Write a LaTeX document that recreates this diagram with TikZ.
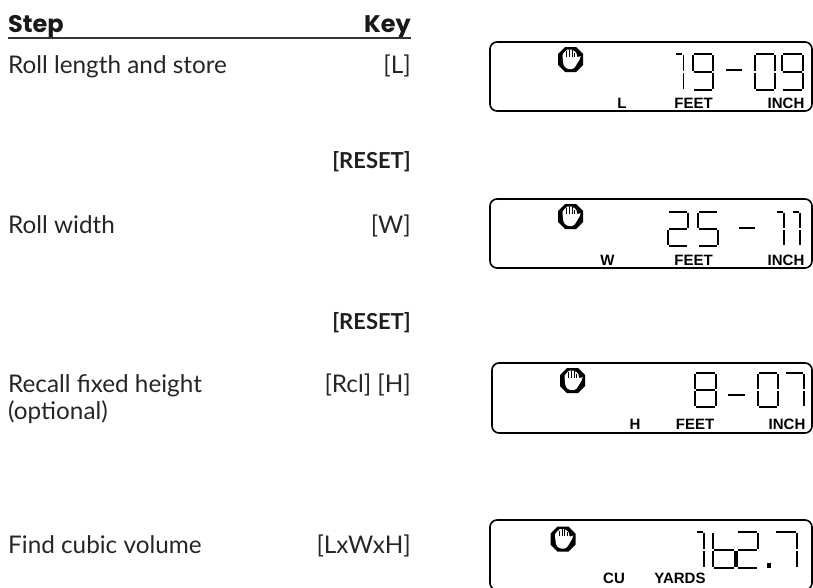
\documentclass[tikz,border=0pt]{standalone}
\usepackage{fontspec}
\setmainfont{Lato}
\newfontfamily\lcdfont{Liberation Sans}
\newfontfamily\headfont{Poppins}
\tikzset{
  x=1pt,y=-1pt,
  body/.style={inner sep=0pt,font=\fontsize{24.3}{27}\selectfont,text=black!85,anchor=base west},
  keytxt/.style={inner sep=0pt,font=\fontsize{24.3}{27}\selectfont,text=black!85,anchor=base east},
  resettxt/.style={inner sep=0pt,font=\fontsize{22}{26}\selectfont\bfseries,text=black!88,anchor=base east},
  headtxt/.style={inner sep=0pt,font=\headfont\fontsize{24}{27}\selectfont\bfseries,text=black!90},
  lcdbox/.style={draw=black,line width=1.6pt,rounded corners=7pt},
  lcd/.style={draw=black,line width=1.9pt,line cap=butt},
  lcddash/.style={draw=black,line width=2.6pt},
  lcdlabel/.style={inner sep=0pt,anchor=base,font=\lcdfont\fontsize{15}{15}\selectfont\bfseries,text=black},
}
\newcommand\sega{\draw[lcd] ([xshift=1.2pt]TL) -- ([xshift=-1.2pt]TR);}
\newcommand\segb{\draw[lcd] ([yshift=-1.2pt]TR) -- ([yshift=1.2pt]MR);}
\newcommand\segc{\draw[lcd] ([yshift=-1.2pt]MR) -- ([yshift=1.2pt]BR);}
\newcommand\segd{\draw[lcd] ([xshift=1.2pt]BL) -- ([xshift=-1.2pt]BR);}
\newcommand\sege{\draw[lcd] ([yshift=-1.2pt]ML) -- ([yshift=1.2pt]BL);}
\newcommand\segf{\draw[lcd] ([yshift=-1.2pt]TL) -- ([yshift=1.2pt]ML);}
\newcommand\segg{\draw[lcd] ([xshift=1.2pt]ML) -- ([xshift=-1.2pt]MR);}
\newcommand\segh{\draw[lcd] ([xshift=-7.5pt]TR) -- ([xshift=-1.2pt]TR);}
% x0 x1 y0 y1 segments
\newcommand\lcdchar[5]{%
  \coordinate (TL) at (#1,#3); \coordinate (TR) at (#2,#3);
  \coordinate (ML) at (#1,{(#3+#4)/2}); \coordinate (MR) at (#2,{(#3+#4)/2});
  \coordinate (BL) at (#1,#4); \coordinate (BR) at (#2,#4);
  \foreach \s in {#5}{\csname seg\s\endcsname}%
}
\newcommand\handicon[2]{%
  \begin{scope}[shift={(#1,#2)}]
    \fill[black] (-5.5,-12.5) -- (5.5,-12.5) -- (12.5,-5.5) -- (12.5,5.5) -- (5.5,12.5) -- (-5.5,12.5) -- (-12.5,5.5) -- (-12.5,-5.5) -- cycle;
    \fill[white,rounded corners=1.5pt] (-8,-3) -- (-7.5,-7) -- (-5,-7) -- (-4.5,-10) -- (3,-10) -- (3.5,-7.5) -- (6,-7.5) -- (6.5,-1.5)
      -- (9.5,-4) -- (10.5,-2.5) -- (5.5,6) -- (3,9.5) -- (-3.5,9.5) -- (-7,6) -- cycle;
    \draw[black,line width=1pt] (-3.8,-8.5) -- (-3.8,-3);
    \draw[black,line width=1pt] (-1,-10) -- (-1,-3);
    \draw[black,line width=1pt] (1.8,-10) -- (1.8,-3);
    \draw[black,line width=.8pt] (4.2,-7) -- (4.2,-3);
  \end{scope}%
}
\begin{document}
\begin{tikzpicture}
\useasboundingbox (0,0) rectangle (813,587);
% table text
\node[headtxt,anchor=base west] (hstep) at (8,32) {Step};
\node[headtxt,anchor=base east] (hkey) at (411,32) {Key};
\draw[black!80,line width=1.1pt] (8,38) -- (411,38);
\node[body] (s1) at (8,73) {Roll length and store};
\node[keytxt] (k1) at (411,73) {[L]};
\node[resettxt] (r1) at (411,168) {[RESET]};
\node[body] (s2) at (8,233) {Roll width};
\node[keytxt] (k2) at (411,233) {[W]};
\node[resettxt] (r2) at (411,329) {[RESET]};
\node[body] (s3) at (8,392) {Recall fixed height};
\node[keytxt] (k3) at (411,392) {[Rcl] [H]};
\node[body] (s3b) at (8,419) {(optional)};
\node[body] (s4) at (8,553) {Find cubic volume};
\node[keytxt] (k4) at (411,553) {[LxWxH]};
% display 1
\draw[lcdbox] (490,42) rectangle (812,111);
\handicon{570.5}{59.5}
\lcdchar{683.5}{683.5}{54}{90}{b,c,h}
\lcdchar{693}{713}{54}{90}{a,b,c,d,f,g}
\draw[lcddash] (726,70) -- (742,70);
\lcdchar{755}{775}{54}{90}{a,b,c,d,e,f}
\lcdchar{782}{803}{54}{90}{a,b,c,d,f,g}
\node[lcdlabel] (l1) at (622,108) {L};
\node[lcdlabel] (f1) at (693.5,108) {FEET};
\node[lcdlabel] (i1) at (786,108) {INCH};
% display 2
\draw[lcdbox] (490,199) rectangle (812,268);
\handicon{570.5}{216.5}
\lcdchar{668}{688}{212}{246}{a,b,d,e,g}
\lcdchar{698}{718}{212}{246}{a,c,d,f,g}
\draw[lcddash] (739,228) -- (755,228);
\lcdchar{784}{784}{212}{246}{b,c,h}
\lcdchar{800}{800}{212}{246}{b,c,h}
\node[lcdlabel] (l2) at (607.5,265) {W};
\node[lcdlabel] (f2) at (693.5,265) {FEET};
\node[lcdlabel] (i2) at (786,265) {INCH};
% display 3
\draw[lcdbox] (492,363) rectangle (812,433);
\handicon{572.5}{380.5}
\lcdchar{695}{716}{373}{407}{a,b,c,d,e,f,g}
\draw[lcddash] (728,395) -- (745,395);
\lcdchar{758}{778}{373}{407}{a,b,c,d,e,f}
\lcdchar{785}{804}{373}{407}{a,b,c}
\node[lcdlabel] (l3) at (635,429) {H};
\node[lcdlabel] (f3) at (695,429) {FEET};
\node[lcdlabel] (i3) at (787,429) {INCH};
% display 4
\draw[lcdbox] (490,520) rectangle (812,590);
\handicon{563}{539}
\lcdchar{704}{704}{532}{568}{b,c,h}
\lcdchar{713}{735}{532}{568}{c,d,e,f,g}
\lcdchar{737}{758}{532}{568}{a,b,d,e,g}
\fill[black] (767,563) rectangle (771,568);
\lcdchar{775}{797}{532}{568}{a,b,c}
\node[lcdlabel] (l4) at (614,583) {CU};
\node[lcdlabel] (y4) at (680,583) {YARDS};
\end{tikzpicture}
\end{document}
